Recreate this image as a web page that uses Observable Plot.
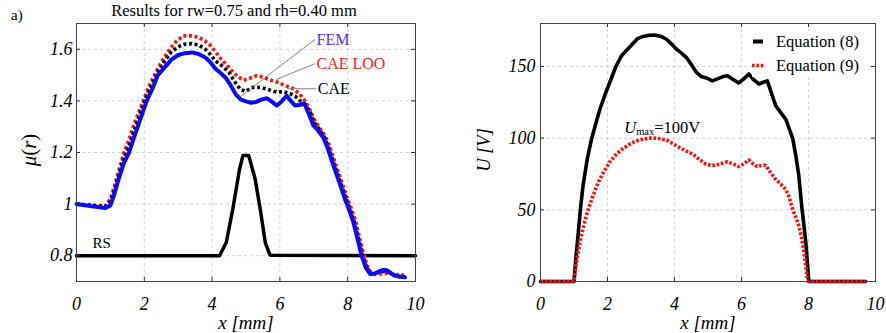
<!DOCTYPE html>
<html><head><meta charset="utf-8">
<script src="https://cdn.jsdelivr.net/npm/d3@7"></script>
<script src="https://cdn.jsdelivr.net/npm/@observablehq/plot@0.6"></script>
<style>
body{margin:0;background:#fff;}
#wrap{position:relative;width:886px;height:333px;overflow:hidden;font-family:'Liberation Serif','DejaVu Serif',serif;color:#000;}
#wrap svg{position:absolute;top:0;}
#wrap svg text{font-family:'Liberation Serif','DejaVu Serif',serif;}
.abs{position:absolute;white-space:nowrap;line-height:1;}
.rot{transform:translate(-50%,-50%) rotate(-90deg);}
.ctr{transform:translate(-50%,-50%);}
</style></head><body>
<div id="wrap"></div>
<script>
// ---------- data ----------
const xTicks = [0, 2, 4, 6, 8, 10];
const muTicks = [0.8, 1, 1.2, 1.4, 1.6];
const uTicks = [0, 50, 100, 150];

const rs = [[0,0.8],[4.22,0.8],[4.42,0.852],[4.61,0.98],[4.81,1.136],[4.91,1.188],[5.08,1.188],[5.27,1.097],[5.42,0.98],[5.57,0.85],[5.71,0.802],[10,0.8]];

const fem = [[0,1.0],[0.4,0.993],[0.85,0.985],[1.0,0.995],[1.12,1.04],[1.25,1.1],[1.4,1.16],[1.55,1.2],[1.7,1.26],[1.9,1.335],[2.07,1.4],[2.25,1.45],[2.4,1.5],[2.6,1.53],[2.8,1.56],[3.0,1.578],[3.2,1.585],[3.4,1.588],[3.6,1.582],[3.8,1.568],[3.95,1.55],[4.1,1.525],[4.25,1.508],[4.4,1.49],[4.55,1.46],[4.7,1.425],[4.85,1.405],[5.0,1.398],[5.15,1.393],[5.3,1.396],[5.45,1.405],[5.62,1.41],[5.75,1.398],[5.91,1.382],[6.05,1.398],[6.2,1.42],[6.32,1.4],[6.45,1.382],[6.6,1.385],[6.72,1.39],[6.85,1.35],[6.99,1.304],[7.1,1.29],[7.28,1.258],[7.4,1.22],[7.58,1.149],[7.75,1.085],[7.92,1.019],[8.05,0.975],[8.17,0.929],[8.3,0.86],[8.41,0.80],[8.53,0.755],[8.66,0.729],[8.78,0.73],[8.9,0.738],[9.05,0.745],[9.15,0.744],[9.28,0.732],[9.4,0.722],[9.55,0.718],[9.69,0.716]];

const caeLoo = [[0,1.0],[0.4,0.996],[0.85,0.993],[1.0,1.02],[1.12,1.07],[1.25,1.13],[1.4,1.2],[1.55,1.25],[1.7,1.31],[1.97,1.4],[2.15,1.46],[2.3,1.5],[2.5,1.55],[2.75,1.6],[2.95,1.632],[3.15,1.652],[3.4,1.652],[3.6,1.647],[3.8,1.632],[3.95,1.615],[4.1,1.59],[4.25,1.565],[4.44,1.537],[4.6,1.515],[4.75,1.495],[4.93,1.48],[5.1,1.487],[5.32,1.498],[5.5,1.492],[5.7,1.482],[5.91,1.473],[6.15,1.46],[6.4,1.447],[6.55,1.43],[6.7,1.408],[6.85,1.375],[7.0,1.33],[7.15,1.3],[7.33,1.265],[7.45,1.23],[7.63,1.16],[7.8,1.095],[7.97,1.03],[8.1,0.985],[8.22,0.94],[8.35,0.87],[8.46,0.81],[8.58,0.76],[8.7,0.732],[8.85,0.727],[9.0,0.73],[9.2,0.732],[9.4,0.727],[9.55,0.724],[9.7,0.727]];

const cae = [[0,1.0],[0.4,0.995],[0.85,0.99],[1.0,1.01],[1.12,1.055],[1.25,1.115],[1.4,1.18],[1.55,1.225],[1.7,1.285],[1.9,1.36],[2.07,1.42],[2.25,1.47],[2.4,1.51],[2.6,1.555],[2.8,1.59],[3.0,1.61],[3.2,1.62],[3.4,1.622],[3.6,1.617],[3.8,1.6],[3.95,1.58],[4.1,1.555],[4.3,1.535],[4.5,1.51],[4.65,1.478],[4.83,1.445],[4.98,1.437],[5.22,1.453],[5.45,1.452],[5.7,1.442],[5.91,1.434],[6.1,1.436],[6.3,1.428],[6.45,1.418],[6.6,1.4],[6.75,1.385],[6.9,1.355],[7.0,1.318],[7.15,1.292],[7.3,1.262],[7.42,1.225],[7.6,1.155],[7.77,1.09],[7.94,1.025],[8.07,0.98],[8.19,0.933],[8.32,0.865],[8.43,0.805],[8.55,0.758],[8.68,0.73],[8.8,0.731],[8.95,0.737],[9.1,0.74],[9.25,0.733],[9.4,0.722],[9.55,0.719],[9.7,0.718]];

const eq8 = [[0,0],[1.0,0],[1.05,15],[1.12,32],[1.19,50],[1.27,67],[1.4,86],[1.52,99],[1.65,110],[1.77,120],[1.92,130],[2.07,139],[2.25,150],[2.42,157.5],[2.6,162],[2.76,166],[2.9,169.5],[3.06,171],[3.25,171.8],[3.41,172],[3.6,171],[3.76,169],[3.9,166],[4.06,162],[4.2,159.5],[4.35,156.4],[4.5,151.5],[4.65,146],[4.8,143],[4.95,142],[5.13,140],[5.3,141.5],[5.45,143],[5.58,143.6],[5.75,141],[5.92,138.5],[6.05,141],[6.22,144.8],[6.35,141],[6.52,137.8],[6.65,139],[6.77,140],[6.9,131],[7.02,122.7],[7.15,118.5],[7.32,113.3],[7.45,105],[7.53,99.5],[7.62,88],[7.71,74],[7.8,52],[7.86,40],[7.92,27],[7.96,15],[8.0,3],[8.01,0],[9.7,0]];

const eq9 = [[0,0],[1.0,0],[1.05,10],[1.12,20],[1.2,30],[1.3,40],[1.42,50],[1.57,60],[1.72,69],[1.85,75],[2.07,83.5],[2.27,89],[2.45,92.5],[2.66,95.8],[2.85,98],[3.06,99.3],[3.25,100],[3.41,100],[3.6,99.5],[3.81,98.2],[4.0,95.5],[4.15,93.5],[4.35,91],[4.55,88.8],[4.75,85],[4.93,82],[5.1,81],[5.23,81.1],[5.4,82.3],[5.58,83.5],[5.75,82],[5.92,80.2],[6.07,82],[6.22,84.9],[6.35,82],[6.47,80.2],[6.6,81],[6.72,81.1],[6.87,76],[7.02,71.3],[7.17,68],[7.32,64.3],[7.42,59],[7.53,50],[7.62,45],[7.71,39],[7.8,30],[7.86,21],[7.92,11],[7.96,3],[8.0,0],[9.7,0]];

// annotation text + anchor positions (data units)
const annoLabels = ["FEM", "CAE LOO", "CAE"];
const annoColors = ["#5a2dff", "#ff2020", "#000000"];
const annoX = [7.08, 7.08, 7.12];
const annoY = [1.638, 1.544, 1.447];
const leaderX2 = [4.8, 5.89, 6.21];
const leaderY2 = [1.413, 1.483, 1.447];
const rsLabel = {text: "RS", x: 0.47, y: 0.85};
const umaxLabel = {x: 2.5, y: 107};
const legendLabels = ["Equation (8)", "Equation (9)"];

// ---------- helpers ----------
const FONT = "'Liberation Serif', 'DejaVu Serif', serif";
const GRID = {stroke: "#c8c8c8", strokeOpacity: 1, strokeDasharray: "3,3", strokeWidth: 0.8};
const DOT = {strokeLinecap: "butt", strokeLinejoin: "miter"};

function frameTicks(xt, yt, innerW, innerH) {
  return [
    Plot.tickX(xt, {x: d => d, stroke: "#333", insetTop: innerH - 4}),
    Plot.tickX(xt, {x: d => d, stroke: "#333", insetBottom: innerH - 4}),
    Plot.tickY(yt, {y: d => d, stroke: "#333", insetRight: innerW - 4}),
    Plot.tickY(yt, {y: d => d, stroke: "#333", insetLeft: innerW - 4})
  ];
}

// ---------- left panel ----------
const L = {w: 443, h: 333, ml: 76, mr: 28, mt: 23, mb: 52};
const left = Plot.plot({
  width: L.w, height: L.h,
  marginLeft: L.ml, marginRight: L.mr, marginTop: L.mt, marginBottom: L.mb,
  style: {fontFamily: FONT, fontSize: "18px", background: "transparent", overflow: "visible"},
  x: {domain: [0, 10]},
  y: {domain: [0.7, 1.7]},
  marks: [
    Plot.gridX(xTicks, GRID),
    Plot.gridY(muTicks, GRID),
    Plot.axisX(xTicks, {tickSize: 0, tickPadding: 16, label: null, tickFormat: d => String(d)}),
    Plot.axisY(muTicks, {tickSize: 0, tickPadding: 4, label: null, tickFormat: d => String(d)}),
    Plot.line(rs, {x: d => d[0], y: d => d[1], stroke: "#000", strokeWidth: 3.5}),
    Plot.line(caeLoo, {x: d => d[0], y: d => d[1], stroke: "#ff1010", strokeWidth: 3.6, strokeDasharray: "3,2.6", ...DOT}),
    Plot.line(cae, {x: d => d[0], y: d => d[1], stroke: "#000", strokeWidth: 3.6, strokeDasharray: "3,2.6", ...DOT}),
    Plot.line(fem, {x: d => d[0], y: d => d[1], stroke: "#0a0aff", strokeWidth: 4}),
    Plot.link(annoLabels, {x1: (d, i) => annoX[i] - 0.05, y1: (d, i) => annoY[i], x2: (d, i) => leaderX2[i], y2: (d, i) => leaderY2[i], stroke: "#777", strokeWidth: 0.9}),
    Plot.text(annoLabels, {x: (d, i) => annoX[i], y: (d, i) => annoY[i], text: d => d, fill: (d, i) => annoColors[i], textAnchor: "start", fontSize: 16}),
    Plot.text([rsLabel], {x: "x", y: "y", text: "text", textAnchor: "start", fontSize: 15}),
    ...frameTicks(xTicks, muTicks, L.w - L.ml - L.mr, L.h - L.mt - L.mb),
    Plot.frame({stroke: "#444", strokeWidth: 1})
  ]
});

// ---------- right panel ----------
const R = {w: 443, h: 333, ml: 97, mr: 11, mt: 23, mb: 52};
const right = Plot.plot({
  width: R.w, height: R.h,
  marginLeft: R.ml, marginRight: R.mr, marginTop: R.mt, marginBottom: R.mb,
  style: {fontFamily: FONT, fontSize: "18px", background: "transparent", overflow: "visible"},
  x: {domain: [0, 10]},
  y: {domain: [0, 180]},
  marks: [
    Plot.gridX(xTicks, GRID),
    Plot.gridY(uTicks, GRID),
    Plot.axisX(xTicks, {tickSize: 0, tickPadding: 16, label: null, tickFormat: d => String(d)}),
    Plot.axisY(uTicks, {tickSize: 0, tickPadding: 5, label: null, tickFormat: d => String(d)}),
    Plot.line(eq8, {x: d => d[0], y: d => d[1], stroke: "#000", strokeWidth: 3.6}),
    Plot.line(eq9, {x: d => d[0], y: d => d[1], stroke: "#ff1010", strokeWidth: 3.6, strokeDasharray: "2.6,1.8", ...DOT}),
    Plot.text([umaxLabel], {x: "x", y: "y", text: () => "Umax=100V", textAnchor: "start", fontSize: 16.5}),
    ...frameTicks(xTicks, uTicks, R.w - R.ml - R.mr, R.h - R.mt - R.mb),
    Plot.frame({stroke: "#444", strokeWidth: 1})
  ]
});

// italic tick labels
for (const svg of [left, right]) {
  d3.select(svg).selectAll("g[aria-label$='tick label']").attr("font-style", "italic");
}
// subscript in Umax label
d3.select(right).selectAll("g[aria-label='text'] text").each(function () {
  const t = d3.select(this);
  t.text(null);
  t.append("tspan").attr("font-style", "italic").text("U");
  t.append("tspan").attr("font-size", 10.5).attr("dy", 2).text("max");
  t.append("tspan").attr("dy", -2).text("=100V");
});

const wrap = document.getElementById("wrap");
left.style.left = "0px";
right.style.left = "443px";
wrap.appendChild(left);
wrap.appendChild(right);

function addDiv(html, css, cls) {
  const d = document.createElement("div");
  d.className = "abs " + (cls || "");
  d.innerHTML = html;
  Object.assign(d.style, css);
  wrap.appendChild(d);
  return d;
}
addDiv("a)", {left: "11px", top: "8px", fontSize: "15px"});
addDiv("Results for rw=0.75 and rh=0.40 mm", {left: "234px", top: "11px", fontSize: "16.5px"}, "ctr");
addDiv("<i>μ</i>(<i>r</i>)", {left: "29px", top: "150px", fontSize: "21px"}, "rot");
addDiv("<i>x</i> <i>[mm]</i>", {left: "246px", top: "322px", fontSize: "19px"}, "ctr");
addDiv("<i>U</i> <i>[V]</i>", {left: "484px", top: "150px", fontSize: "18.5px"}, "rot");
addDiv("<i>x</i> <i>[mm]</i>", {left: "708px", top: "322px", fontSize: "19px"}, "ctr");

// legend
const lg = addDiv("", {left: "752px", top: "31px", width: "117px", height: "46px", background: "#fff"});
const lgSvg = d3.select(lg).append("svg").attr("width", 117).attr("height", 46).style("position", "static");
lgSvg.append("line").attr("x1", 1).attr("x2", 11).attr("y1", 10.5).attr("y2", 10.5).attr("stroke", "#000").attr("stroke-width", 4);
lgSvg.append("line").attr("x1", 0).attr("x2", 13).attr("y1", 34.5).attr("y2", 34.5).attr("stroke", "#ff1010").attr("stroke-width", 3.6).attr("stroke-dasharray", "2.6,1.8");
lgSvg.selectAll("text.lbl").data(legendLabels).join("text").attr("class", "lbl")
  .attr("x", 24).attr("y", (d, i) => 16 + i * 24).attr("font-family", FONT).attr("font-size", 16.5).text(d => d);
</script>
</body></html>
